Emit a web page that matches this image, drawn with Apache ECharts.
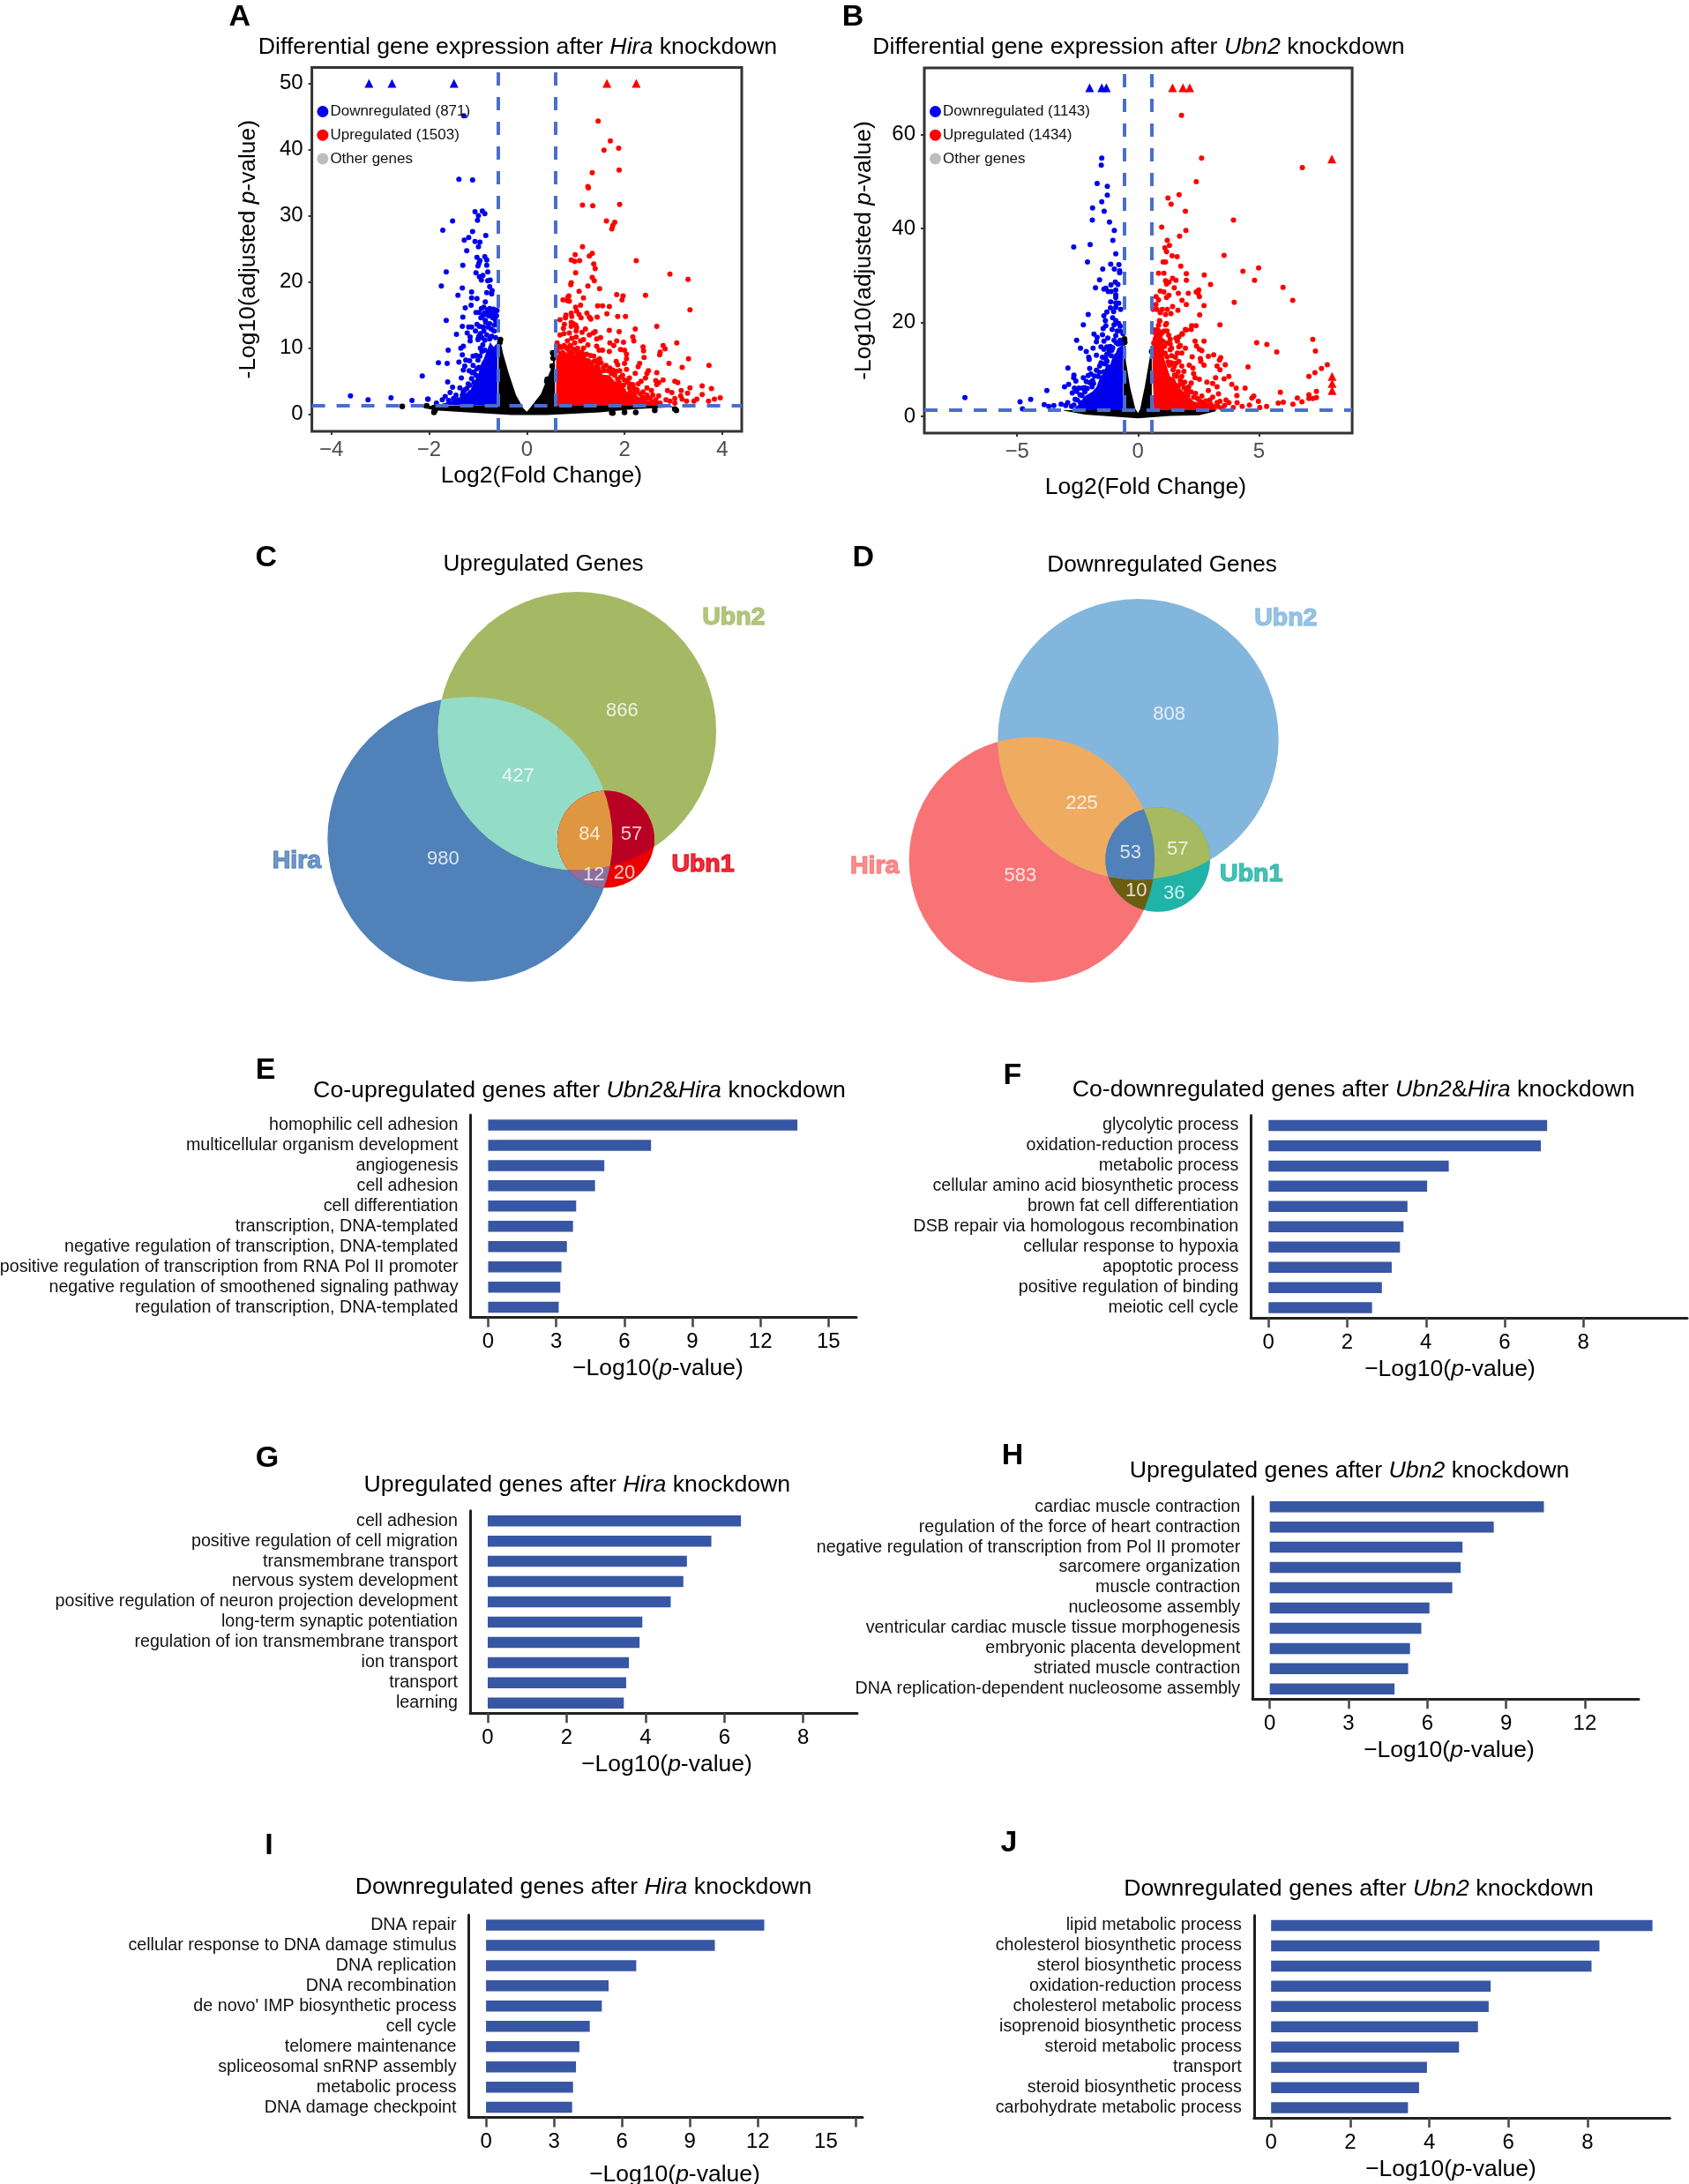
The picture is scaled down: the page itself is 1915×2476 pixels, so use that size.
<!DOCTYPE html>
<html>
<head>
<meta charset="utf-8">
<title>Hira Ubn2 knockdown</title>
<script src="https://cdn.jsdelivr.net/npm/echarts@6/dist/echarts.min.js"></script>
<style>
  html, body { margin: 0; padding: 0; background: #fff; }
  #main { width: 1915px; height: 2476px; }
</style>
</head>
<body>
<div id="main"></div>
<script>
// panel A points as [log2FC, -log10(padj)]
const hiraTopDown = [[-3.23,50],[-2.76,50],[-1.49,50]];
const hiraTopUp = [[1.64,50],[2.24,50]];
const hiraDown = [[-3.61,2.8],[-3.25,2.2],[-2.78,2.5],[-2.35,2.1],[-2.02,2.3],[-2.14,5.8],[-1.29,45.1],[-1.39,35.5],[-1.11,35.4],[-1.06,30.6],[-0.91,30.7],[-0.86,30.3],[-0.99,30],[-1.01,29.3],[-1.52,29.2],
  [-1.72,27.8],[-1.11,27.6],[-1.19,26.7],[-1.28,26.3],[-1.06,26.1],[-0.96,26],[-0.84,27],[-0.99,25.3],[-1.23,24.7],[-1.02,23.7],[-0.86,23.8],[-0.82,23.3],[-0.96,23.2],[-0.98,22.8],[-1,22.4],[-1.31,22.5],[-0.82,22.5],
  [-1.65,21.5],[-1.04,21.4],[-0.8,21.5],[-0.9,21],[-0.97,20.8],[-0.93,20.3],[-0.8,20.2],[-0.75,20.3],[-0.76,19.3],[-1.75,19.4],[-1.32,19.1],[-0.82,18.4],[-0.71,18.7],[-0.72,18.2],[-1.13,18.5],[-1.41,18],
  [-1.13,17.6],[-1.02,17.5],[-0.85,17],[-1.26,16.1],[-1.14,16.5],[-0.93,16],[-0.88,16.2],[-1.04,15.4],[-0.98,15.4],[-0.76,16],[-0.64,15.6],[-0.7,15.3],[-0.61,15.7],[-0.82,15.1],[-0.94,14.6],[-1.31,14.7],[-1.65,14.2],
  [-0.85,14.2],[-0.64,14.2],[-0.76,13.7],[-1.32,13.3],[-1.19,13.2],[-1.13,13.2],[-1.02,13.6],[-1.05,12.6],[-0.88,12.6],[-0.67,12.6],[-1.44,12.1],[-1.22,12.3],[-0.95,12.2],[-0.82,12],[-1.16,11.7],[-0.99,11.5],[-1,11.3],
  [-1.16,11.1],[-1.3,10.3],[-1.35,10],[-0.95,10],[-1.61,9.7],[-1.32,9],[-1.1,8.8],[-1.04,8.9],[-1.25,8.2],[-1.17,8.1],[-1.39,7.9],[-1.81,7.8],[-1.63,7.7],[-1.27,7.3],[-1.3,6.7],[-1.18,6.6],[-1.12,6.3],[-1.34,5.5],
  [-1.62,4.9],[-1.17,4.4],[-1.52,4.1],[-1.37,4],[-1.27,3.7],[-1.57,3.3],[-1.67,2.7],[-1.73,2.2],[-1.4,2.2],[-2.03,2.3],[-1.85,1.7],
  [-0.62,14.9],[-0.66,13.5],[-0.7,14.6],[-0.73,12.9],[-0.78,14.9],[-0.8,13.2],[-0.84,13.9],[-0.87,15.3],[-0.9,13.2],[-0.92,11.6],[-0.97,13.3],[-0.72,11.8],[-0.64,11.6],[-0.76,11.4],[-0.86,11.2],[-0.68,15.9],[-0.74,15.6],[-0.8,15.8],[-0.9,14.9],[-0.98,11.8],
  [-0.92,9.5],[-0.96,8.8],[-1,8.2],[-0.98,7.1],[-1.02,6.9],[-1.08,6.4],[-1.04,5.9],[-1.13,5.4],[-1.08,4.8],[-1.2,4.6],[-1.23,3.9],[-1.3,3.4],[-1.45,2.9],[-1.5,2.4],[-1.6,2.1],[-1.32,2.9],[-0.9,10.5],[-0.86,9.7],[-1.1,7.4],[-1.15,3.3]];
const hiraUp = [[1.46,44.3],[1.71,41.3],[1.88,40.2],[1.58,39.9],[1.89,36.9],[1.34,36.5],[1.25,34.4],[1.26,34.2],[1.14,31.6],[1.35,31.5],[1.9,31.7],[1.63,29.2],[1.8,29],[1.76,28.5],[1.74,28],
  [1.14,25.3],[0.99,24.1],[1.34,24.3],[1.28,23.9],[0.91,23.3],[0.98,23.1],[1.08,23.2],[2.24,23.2],[1.37,22.7],[1.4,22],[1,21.4],[1.34,20.7],[1.38,20.2],[2.93,21.2],[3.3,20.4],[0.91,19.9],[0.9,19.6],[1.25,19.4],[1.49,19],
  [1.07,18.6],[1.84,18.1],[1.97,17.9],[1.95,17.3],[2.43,18],[0.86,17.9],[0.84,17.7],[0.74,17.3],[0.83,17.2],[0.87,17.1],[1.16,17.6],[3.34,15.8],[1.1,16.5],[1,16.2],[1.45,16.4],[1.55,16.4],[1.69,16.3],[1.02,15.6],[1.23,15.3],
  [0.91,15.3],[1.07,15.1],[0.8,15],[0.79,14.6],[0.92,14.8],[1.11,14.6],[1.28,14.7],[1.31,14.4],[1.44,14.7],[1.64,15.2],[1.86,14.8],[2.02,14.8],[0.68,14.3],[0.77,13.6],[0.91,13.9],[0.95,13.7],[1,13.5],[2.66,13.3],[0.75,13],
  [0.91,13.3],[1.02,13.1],[1.2,12.9],[2.22,12.9],[1.69,12.7],[1.89,12.5],[0.68,12],[0.76,12.2],[0.87,12.3],[1.01,12.6],[1.13,12.4],[1.4,12.5],[1.36,12.3],[1.28,12],[2.17,11.7],[2.19,11.1],[1.51,11.6],[1.43,11.4],[1.01,11.7],
  [0.92,11.5],[1.16,11.3],[1.1,11.1],[0.62,10.8],[0.83,11.1],[0.98,10.8],[3.07,10.8],[1.7,10.8],[1.84,11.1],[1.98,10.9],[1.78,10.4],[1.43,10.3],[1.25,10.5],[0.76,10.4],[0.89,10.4],[2.38,10.2],[2.79,10.4],[2.83,9.9],[2.39,9.6],
  [2.73,9.4],[2.72,9],[1.92,9.8],[2,9.7],[1.69,9.5],[1.55,9.7],[1.48,9.7],[1.16,10],[1.04,10],[2.04,9.1],[2.4,8.6],[3.31,8.4],[2.04,8.4],[2.31,7.7],[1.83,8],[2,7.7],[1.49,8.4],[1.37,8.8],[2.91,7.7],[3.18,7.1],[3.73,7.4],[2.28,7.2],
  [2.49,6.6],[2.66,6.3],[2.46,6.2],[2.43,5.5],[2.04,6.8],[1.86,7.5],[2.22,6.2],[1.73,6.2],[1.57,7.1],[2.1,5.5],[2.34,5],[2.28,4.6],[2.64,5.1],[2.7,4.8],[2.79,5.2],[2.66,4.5],[3.03,5],[3.09,4.8],[3.34,4],[3.59,4.3],[3.78,3.9],
  [3.59,3],[3.29,3.2],[3.16,3.6],[2.88,3.6],[2.97,3.3],[2.55,3.6],[2.46,2.9],[2.37,2.6],[2.7,2.8],[2.85,2.2],[3.03,2.4],[3.15,2.8],[3.18,2.3],[3.27,2],[3.42,2],[3.48,2.3],[3.72,2],[3.84,2.3],[3.96,2.5],[2.73,1.7],[2.64,2.2],
  [2.52,2.4],[2.31,2.2],[1.86,5.3],[1.55,5.3],[2.22,3.3],[2.1,4],[1.98,4.4],[1.8,3.7],[1.89,4.8],[2.46,4],[2.64,1.7],[2.93,2],[3.03,1.7],
  [0.62,9.6],[0.66,10.3],[0.7,10.1],[0.79,10.2],[0.83,9.9],[0.87,9.3],[0.94,9.9],[1,9.5],[1.05,9.3],[1.12,9.4],[1.17,8.9],[1.22,9.1],[1.3,8.9],[1.38,8],[1.43,8.1],[1.45,7.5],[1.52,7.8],[1.57,6.6],[1.62,7.4],[1.66,6.6],[1.7,7],[1.76,6.7],[1.8,5.9],[1.83,6.5],[1.9,6.6],[1.92,5.6],[1.96,5.9],[2,5.2],[2.06,4.9],[2.1,4.6],[2.17,4.5],[2.2,3.9],[2.12,3.5],[2.26,3.7],[2.32,3.1],[2.38,3.4],[2.4,2.3],[1.97,3.6],[2.57,1.9],[2.47,2.4],[2.58,2.9]];
const hiraOther = [[-2.55,1.2],[-2.05,1.3],[-1.9,1.05],[-1.9,0.3],[-1.88,0.6],[1.74,0.25],[1.76,0.2],[2,0.3],[2.23,0.3],[2.62,0.6],[2.62,1.1],[3.06,0.6],[3.03,0.8],[-0.54,11.3],[-0.55,10.9],[0.54,8.5],[0.52,7.3],[0.42,5.3],[0.41,5],[0.53,9.3]];
// the solid parts of panel A, too dense to read single points: outlines only
const hiraDownMass = [[-0.6,1.3],[-0.6,10.8],[-0.68,10.2],[-0.75,10.9],[-0.82,9.6],[-0.88,8.4],[-0.93,7.8],[-1,5.9],[-1.08,5],[-1.15,3.7],[-1.27,3.1],[-1.4,2.4],[-1.6,1.9],[-1.82,1.4]];
const hiraUpMass = [[0.6,1.3],[0.6,8.4],[0.66,9.5],[0.75,9.8],[0.82,9.2],[0.9,9.9],[1,9],[1.1,9.5],[1.2,8.6],[1.3,8.4],[1.38,7.5],[1.5,7.3],[1.55,6],[1.7,5.9],[1.8,5],[1.95,4.6],[2.05,3.4],[2.2,3.3],[2.35,2.1],[2.5,2],[2.7,1.3]];
const hiraOtherMass = [[-2.3,1.3],[-0.58,1.3],[-0.58,11],[-0.52,10.4],[-0.49,9.3],[-0.37,6.2],[-0.22,2.9],[-0.07,0.9],[0,0.4],[0.08,1.1],[0.29,3.1],[0.41,5.3],[0.53,7.5],[0.57,10.6],[0.58,1.3],[2.9,1.3],[3.06,1.1],[2.22,0.8],[1.49,0.3],[0.41,-0.1],[-0.31,-0.1],[-1.21,0.3],[-1.88,0.6]];

// panel B points
const ubn2TopDown = [[-2,70],[-1.5,70],[-1.31,70]];
const ubn2TopUp = [[1.43,70],[1.86,70],[2.14,70],[8.02,54.8],[8.03,8.5],[8.03,7],[8.03,5.5]];
const ubn2Down = [[-1.5,55],[-1.52,53.5],[-1.69,49.6],[-1.27,49],[-1.27,47.1],[-1.5,45.7],[-1.88,44.4],[-1.4,43.7],[-1.89,41.8],[-1.18,41.4],[-0.98,39.6],[-1.04,37.5],[-1.98,36.6],[-2.66,36.1],[-0.92,34.6],[-2.09,32.9],[-1.13,32.4],[-0.79,32.3],[-1.46,31.4],[-0.98,31.4],[-0.76,31],[-0.76,30.6],
  [-1.59,29.1],[-0.94,28.6],[-1.12,28],[-0.83,28.1],[-1.76,27.4],[-1.41,27.1],[-1.33,27.3],[-1.23,26.6],[-1.11,26.6],[-0.92,26.9],[-0.92,25.9],[-0.92,25.3],[-1.13,24.4],[-0.92,24.2],[-0.8,24.1],[-0.72,22.8],[-1.14,23.1],[-0.92,23.2],[-1.01,22.3],[-1.29,22.2],[-2.06,21.7],[-1.41,21.4],[-1.35,20.4],[-1.05,21],[-0.92,20.4],[-0.8,19.8],
  [-2.26,19.5],[-1.33,19.3],[-0.99,19.5],[-0.74,19.2],[-1.44,18.7],[-1.07,18.5],[-0.86,18.2],[-0.74,18.2],[-1.82,17.5],[-0.62,17.6],[-1.47,17.4],[-0.92,17.2],[-1.69,16.8],[-1.25,16.7],[-2.54,16.2],[-1.72,15.9],[-1.41,16],[-0.99,16.2],[-0.74,16.2],[-2.38,14.5],[-1.86,14.5],[-1.53,14.8],[-1.41,14.3],[-1.29,14.8],[-2.14,13.8],[-1.72,13],[-2.04,12.6],[-2.02,12.1],[-1.47,12.6],[-1.29,13.2],[-1.11,12.9],[-0.89,12.9],
  [-2.9,10.3],[-2,10.2],[-1.72,9.8],[-1.59,10.7],[-2.65,8.8],[-2.66,8.2],[-2.57,7.5],[-2.87,6.8],[-3.04,6.3],[-2.26,8.2],[-2.14,7.4],[-2.06,8.7],[-2.63,6],[-2.54,5.3],[-2.45,6],[-2.3,6],[-3.77,5.5],[-2.72,5],[-2.32,4.4],[-2.51,3.5],[-2.38,2.9],[-2.91,2.9],[-3.18,2.6],[-2.99,2.3],[-3.48,2.3],[-3.88,2.5],[-3.69,2.1],[-1.84,7],[-1.9,6.3],[-1.65,8.5],[-1.41,9.5],[-1.11,9.1],
  [-7.16,4],[-4.88,3.1],[-4.44,3.6],[-4.78,1.6],
  [-0.7,15.5],[-0.82,15.4],[-0.9,15.7],[-1.05,14.6],[-1.15,14.9],[-1.2,13.9],[-1.33,12.2],[-1.38,11.2],[-1.53,11.4],[-1.6,9.4],[-1.8,8.6],[-1.88,7.6],[-2,7.2],[-2.1,5.9],[-2.2,6.1],[-2.4,4.6],[-2.2,5.2],[-2.6,3.6],[-2.65,2.4],[-2.75,2.1],[-1.95,9],[-1.28,11.7],[-1.08,14.1]];
const ubn2Up = [[1.8,64.1],[2.63,55],[6.8,53],[2.41,50],[1.7,47.2],[1.24,46.5],[1.37,45.2],[1.96,43.7],[3.95,41.8],[0.98,40.3],[1.98,39.6],[1.72,38.4],[1.21,37.5],[1.3,36.4],[1.11,35.9],[1.18,35.1],[1.41,34.2],[1.62,34],[3.56,34.3],[1.04,32.9],[1.14,32.9],[1.77,32],[4.99,31.6],[4.34,30.9],[4.82,29],[2,30.4],[0.85,30.5],[1.07,30.5],[2.74,30.1],[2,29],[1.14,28.9],[1.43,29.4],[1.57,29],[3,28.1],[6,27.5],[6.4,24.7],[3.98,24.3],[3.39,19.5],
  [1.5,27.4],[1.28,28.6],[1.18,28.2],[2.51,26.9],[2.41,26.5],[2.08,26.2],[1.67,26.2],[0.92,26.7],[1.07,26.5],[1.28,25.8],[0.75,25.5],[1.18,25.3],[1.82,24.7],[2,23.8],[2.48,26.2],[2.54,25.5],[2.73,23.6],[2.55,21.6],[0.85,24.8],[0.74,23.8],[1.43,23.4],[1.65,22.6],[0.63,22.8],[0.78,22.8],[1,22.8],[1.21,22.8],[1.36,21.9],[0.92,22.1],[1.14,21.7],[0.89,20.4],[2.22,19.3],[2.4,19.3],[1.96,18.5],[1.82,17.6],
  [4.91,15.7],[5.33,15.3],[5.74,13.7],[7.23,16.4],[7.34,13.9],[7.83,11],[7.59,10.2],[7.32,9.3],[7.07,8.5],[4.55,10.5],[4.43,6],[4.79,4.3],[4.71,3.9],[4.98,3.2],[5.32,2.1],[5.04,1.9],[4.61,2.4],[4.31,2.1],[4.1,2.9],[4.09,4.4],[4.06,6],[3.88,6.8],[3.76,8.5],[3.56,8],[3.61,11],[3.39,9.9],[3.27,10.7],[3.42,12.5],[3.37,12],[3.13,13.1],[2.91,12.8],[2.73,16],[2.36,16],[2.42,15],[2.54,14.3],[2.64,14],
  [2.2,18.5],[2,18.4],[1.84,17.5],[1.69,16.9],[1.63,16],[1.39,14.5],[1.96,14.5],[1.81,13.5],[2.24,12.7],[2.58,12.3],[2.6,11.7],[2.73,10.9],[2.12,10.9],[2.27,10.3],[1.69,11.7],[1.51,8.8],[1.81,8.5],[2.3,9.1],[2.36,8.2],[2.54,7.9],[2.85,7.3],[3.09,7],[3.21,8.2],[3.27,6.3],[3.33,4.8],[2.91,5.5],[2.64,4.3],[2.97,3.5],[3.39,3.2],[3.64,3.5],[3.76,2.9],[3.94,1.9],[3.58,2.3],[3.27,2.9],[3.09,4.1],[2.73,2.9],[2.3,4.1],[2.06,5.7],[1.69,6.6],[1.93,7.3],[2.06,4.4],[1.57,11.3],[1.33,15.4],[1.2,18.2],[0.9,20.3],[1.18,19.8],[1.57,16.7],[1.75,15.1],
  [5.89,5.1],[6.01,3],[5.8,2.8],[6.41,2.6],[6.59,3.9],[6.78,3.1],[7.07,3.8],[7.07,4.6],[7.38,5.3],[7.38,4],[7.23,3.8],[0.66,17.9],[1.14,19.5],[1.08,18.2],[1.27,17.3],[1.33,16.4],[1.33,14.2],[1.39,12.9],[1.69,14.8],[1.63,13.5],[1.81,10.7],
  [0.65,15.6],[0.7,18.4],[0.75,16.7],[0.85,19.4],[0.92,17.3],[1,17.8],[1.02,16],[1.1,14.9],[1.12,13.5],[1.18,15.6],[1.2,12.7],[1.25,11.6],[1.3,10.9],[1.38,11.4],[1.45,9.9],[1.5,10.6],[1.6,8.5],[1.66,9.5],[1.75,7.6],[1.85,7],[1.9,6.1],[2,5.3],[2.1,6.3],[2.2,5.2],[2.38,4.9],[2.45,3.8],[2.55,3.3],[2.62,3],[2.8,3.3],[2.85,2.4],[3,2.6],[3.1,2.1],[3.3,2.1],[3.45,1.8],[2.2,7.1],[1.9,9.6],[1.55,12.6]];
const ubn2Other = [[-0.56,16.5],[-0.55,15.8],[0.57,13.8]];
const ubn2DownMass = [[-0.62,1.3],[-0.62,15.3],[-0.72,14.9],[-0.85,14.5],[-0.95,13],[-1.05,12.6],[-1.15,11],[-1.3,11.2],[-1.41,9.3],[-1.55,8.6],[-1.72,6.2],[-1.9,5.2],[-2.2,4.3],[-2.45,2.6],[-2.69,1.3]];
const ubn2UpMass = [[0.66,1.3],[0.6,9.8],[0.6,16.4],[0.78,19.2],[0.96,18.5],[1.08,14.8],[1.08,12.3],[1.33,8.5],[1.5,8.2],[1.69,6.2],[1.9,5.2],[2.3,3.2],[2.7,2.6],[3.15,2.1],[3.27,1.3]];
const ubn2OtherMass = [[-3.08,1.3],[-0.6,1.3],[-0.6,15.5],[-0.56,16.5],[-0.5,11.7],[-0.32,6],[-0.11,1.6],[0,0.7],[0.09,1.6],[0.29,6.6],[0.5,12.9],[0.57,14.2],[0.57,1.3],[3.21,1.3],[3.21,1.1],[2.54,0.25],[1.33,0.1],[0,-0.4],[-2.2,0.4],[-3.08,1.2]];

// venn panels: circles are [x, y, r] on a plain unit scale, counts are [x, y, count]
const vennUpCircles = [[201.9,290.5,161.6],[323.3,167.8,157.8],[355.9,290.5,55]];
const vennUpCounts = [[374.3,144.9,866],[256.4,218.9,427],[337.5,285.4,84],[385,285.4,57],[171.4,312.9,980],[342.2,330.8,12],[377,329,20]];
const vennUpNames = [[500.8,39,'Ubn2'],[5.4,315,'Hira'],[466,318.8,'Ubn1']];
const vennDownCircles = [[208.9,313.7,139.2],[329.5,177.1,159.2],[351.7,313.5,59.3]];
const vennDownCounts = [[364.7,149.4,808],[265.5,249.9,225],[320.8,305.7,53],[374.2,301.6,57],[195.9,331.5,583],[327.2,349,10],[370.3,351.5,36]];
const vennDownNames = [[496.8,40.5,'Ubn2'],[30.6,321.2,'Hira'],[457.7,329.8,'Ubn1']];

// GO term panels
const termsE = ['homophilic cell adhesion','multicellular organism development','angiogenesis','cell adhesion','cell differentiation','transcription, DNA-templated','negative regulation of transcription, DNA-templated','positive regulation of transcription from RNA Pol II promoter','negative regulation of smoothened signaling pathway','regulation of transcription, DNA-templated'];
const valuesE = [13.63,7.18,5.12,4.71,3.88,3.74,3.47,3.23,3.18,3.11];
const termsF = ['glycolytic process','oxidation-reduction process','metabolic process','cellular amino acid biosynthetic process','brown fat cell differentiation','DSB repair via homologous recombination','cellular response to hypoxia','apoptotic process','positive regulation of binding','meiotic cell cycle'];
const valuesF = [7.08,6.92,4.58,4.03,3.53,3.43,3.34,3.13,2.88,2.63];
const termsG = ['cell adhesion','positive regulation of cell migration','transmembrane transport','nervous system development','positive regulation of neuron projection development','long-term synaptic potentiation','regulation of ion transmembrane transport','ion transport','transport','learning'];
const valuesG = [6.42,5.67,5.05,4.96,4.64,3.92,3.85,3.58,3.51,3.45];
const termsH = ['cardiac muscle contraction','regulation of the force of heart contraction','negative regulation of transcription from Pol II promoter','sarcomere organization','muscle contraction','nucleosome assembly','ventricular cardiac muscle tissue morphogenesis','embryonic placenta development','striated muscle contraction','DNA replication-dependent nucleosome assembly'];
const valuesH = [10.44,8.53,7.34,7.27,6.95,6.08,5.77,5.34,5.27,4.75];
const termsI = ['DNA repair','cellular response to DNA damage stimulus','DNA replication','DNA recombination',"de novo' IMP biosynthetic process",'cell cycle','telomere maintenance','spliceosomal snRNP assembly','metabolic process','DNA damage checkpoint'];
const valuesI = [12.28,10.1,6.63,5.41,5.11,4.58,4.12,3.97,3.84,3.8];
const termsJ = ['lipid metabolic process','cholesterol biosynthetic process','sterol biosynthetic process','oxidation-reduction process','cholesterol metabolic process','isoprenoid biosynthetic process','steroid metabolic process','transport','steroid biosynthetic process','carbohydrate metabolic process'];
const valuesJ = [9.64,8.3,8.1,5.55,5.5,5.23,4.75,3.94,3.74,3.46];

const FONT = '"Liberation Sans", Arial, sans-serif';
const DARK = '#231f20';
const CUT = '#4a6ecf';

var titles = [], grids = [], xAxes = [], yAxes = [], series = [], legends = [];

function addTitle(text, x, y, size, weight, rich) {
  titles.push({
    text: text, left: x, top: y, textAlign: 'center', textVerticalAlign: 'middle', padding: 0,
    textStyle: { fontFamily: FONT, fontSize: size, fontWeight: weight || 'normal', color: '#000', rich: rich }
  });
}
function italicRich(size) {
  return {
    a: { fontFamily: FONT, fontSize: size, color: '#000' },
    i: { fontFamily: FONT, fontSize: size, color: '#000', fontStyle: 'italic' }
  };
}
function richTitle(before, italic, after, x, y) {
  addTitle('{a|' + before + '}{i|' + italic + '}{a|' + after + '}', x, y, 26.7, 'normal', italicRich(26.7));
}
function nameShift(nameX, center) {
  var d = nameX - center;
  return [0, d < 0 ? -2 * d : 0, 0, d > 0 ? 2 * d : 0];
}
function minusSign(v) {
  return String(v).replace('-', '\u2212');
}

// one filled outline in data coordinates
function massSeries(idx, outline, color, z) {
  return {
    type: 'custom', xAxisIndex: idx, yAxisIndex: idx, z: z, silent: true, clip: true,
    coordinateSystem: 'cartesian2d',
    data: [outline[0]],
    renderItem: function (params, api) {
      return {
        type: 'polygon',
        shape: { points: outline.map(function (p) { return api.coord(p); }) },
        style: { fill: color }
      };
    }
  };
}

function volcano(p) {
  var idx = grids.length;
  grids.push({ outerBoundsMode: 'none', left: p.left, top: p.top, width: p.width, height: p.height, show: true, borderColor: '#333', borderWidth: 3, backgroundColor: 'transparent' });
  xAxes.push({
    gridIndex: idx, type: 'value', min: p.xMin, max: p.xMax,
    name: 'Log2(Fold Change)', nameLocation: 'middle', nameGap: p.xGap,
    nameTextStyle: { fontFamily: FONT, fontSize: 26.5, color: '#000', padding: nameShift(p.nameX, p.left + p.width / 2) },
    splitLine: { show: false },
    axisLine: { show: false, onZero: false },
    axisTick: { show: true, length: 4, lineStyle: { color: '#333', width: 2 }, customValues: p.xTicks },
    axisLabel: { customValues: p.xTicks, fontFamily: FONT, fontSize: 24, color: '#4d4d4d', margin: 9, formatter: minusSign }
  });
  yAxes.push({
    gridIndex: idx, type: 'value', min: p.yMin, max: p.yMax,
    name: '{a|-Log10(adjusted }{i|p}{a|-value)}', nameLocation: 'middle', nameGap: p.yGap, nameRotate: 90,
    nameTextStyle: { fontFamily: FONT, fontSize: 26.4, color: '#000', rich: italicRich(26.4) },
    splitLine: { show: false },
    axisLine: { show: false, onZero: false },
    axisTick: { show: true, length: 4, lineStyle: { color: '#333', width: 2 }, customValues: p.yTicks },
    axisLabel: { customValues: p.yTicks, fontFamily: FONT, fontSize: 24, color: '#000', margin: 10 }
  });
  function dots(name, data, color, symbol, size, z) {
    return { name: name, type: 'scatter', xAxisIndex: idx, yAxisIndex: idx, data: data, symbol: symbol, symbolSize: size, z: z, silent: true, itemStyle: { color: color, opacity: 1 } };
  }
  series.push(massSeries(idx, p.otherMass, '#000', 2));
  series.push(dots('Other genes', p.other, '#000', 'circle', 6.5, 2));
  series.push(massSeries(idx, p.downMass, '#0000ee', 3));
  series.push(dots(p.downName, p.down, '#0000ee', 'circle', 6, 3));
  series.push(massSeries(idx, p.upMass, '#ff0000', 3));
  series.push(dots(p.upName, p.up, '#ff0000', 'circle', 6, 3));
  series.push(dots('top down ' + idx, p.topDown, '#0000ee', 'triangle', 10, 4));
  var top = dots('top up ' + idx, p.topUp, '#ff0000', 'triangle', 10, 4);
  top.z = 5;
  top.markLine = {
    silent: true, symbol: 'none', animation: false, label: { show: false },
    lineStyle: { color: CUT, width: 4, type: [15, 13] },
    data: [{ xAxis: -0.585 }, { xAxis: 0.585 }, { yAxis: 1.3 }]
  };
  series.push(top);
  legends.push({
    left: p.legendLeft, top: 118, orient: 'vertical', itemWidth: 13, itemHeight: 13, itemGap: 9.7, padding: 0,
    selectedMode: false, icon: 'circle',
    textStyle: { fontFamily: FONT, fontSize: 17, color: '#111', padding: [0, 0, 0, -3] },
    data: [
      { name: p.downName, itemStyle: { color: '#0000ee' } },
      { name: p.upName, itemStyle: { color: '#ff0000' } },
      { name: 'Other genes', itemStyle: { color: '#bdbdbd' } }
    ]
  });
}

function goBars(p) {
  var idx = grids.length;
  grids.push({ outerBoundsMode: 'none', left: p.left, top: p.top, width: p.width, height: 229.6 });
  xAxes.push({
    gridIndex: idx, type: 'value', min: p.xMin, max: p.xMax,
    name: '{a|\u2212Log10(}{i|p}{a|-value)}', nameLocation: 'middle', nameGap: p.nameGap || 45,
    nameTextStyle: { fontFamily: FONT, fontSize: 26.5, color: '#000', rich: italicRich(26.5), padding: nameShift(p.nameX, p.left + p.width / 2) },
    splitLine: { show: false },
    axisLine: { show: true, onZero: false, lineStyle: { color: DARK, width: 3 } },
    axisTick: { show: true, length: 11, lineStyle: { color: '#444', width: 2.5 }, customValues: p.tickValues || p.ticks },
    axisLabel: { customValues: p.ticks, fontFamily: FONT, fontSize: 24, color: '#000', margin: 16 }
  });
  yAxes.push({
    gridIndex: idx, type: 'category', inverse: true, data: p.terms,
    axisLine: { onZero: false, lineStyle: { color: DARK, width: 3 } },
    axisTick: { alignWithLabel: true, length: 12, lineStyle: { color: DARK, width: 3 } },
    axisLabel: { fontFamily: FONT, fontSize: 19.7, color: '#111', margin: 14, interval: 0 }
  });
  series.push({
    type: 'bar', xAxisIndex: idx, yAxisIndex: idx, data: p.values, barWidth: 12.5, silent: true,
    itemStyle: { color: '#3756a4' }
  });
}

function venn(p) {
  var idx = grids.length;
  grids.push({ outerBoundsMode: 'none', left: p.left, top: p.top, width: 560, height: 470 });
  xAxes.push({ gridIndex: idx, type: 'value', min: 0, max: 560, show: false });
  yAxes.push({ gridIndex: idx, type: 'value', min: 0, max: 470, inverse: true, show: false });
  function circleShape(api, c) {
    var at = api.coord([c[0], c[1]]);
    return { cx: at[0], cy: at[1], r: api.size([c[2], 0])[0] };
  }
  series.push({
    type: 'custom', xAxisIndex: idx, yAxisIndex: idx, silent: true, clip: false, z: 2,
    data: p.regions.map(function (r, i) { return [i, i]; }),
    renderItem: function (params, api) {
      var region = p.regions[params.dataIndex];
      var members = region.sets.map(function (s) { return p.circles[s]; });
      var el = { type: 'circle', shape: circleShape(api, members[0]), style: { fill: region.color } };
      // every further set of the region clips the overlap down
      for (var i = 1; i < members.length; i++) {
        el = { type: 'group', clipPath: { type: 'circle', shape: circleShape(api, members[i]) }, children: [el] };
      }
      return el;
    }
  });
  series.push({
    type: 'scatter', xAxisIndex: idx, yAxisIndex: idx, data: p.counts, symbolSize: 0, silent: true, z: 4,
    label: {
      show: true, position: 'inside', fontFamily: FONT, fontSize: 22, color: '#fff',
      formatter: function (o) { return o.value[2]; }
    }
  });
  series.push({
    type: 'scatter', xAxisIndex: idx, yAxisIndex: idx, symbolSize: 0, silent: true, z: 4,
    data: p.names.map(function (n, i) {
      return {
        value: n,
        label: { show: true, position: 'inside', fontFamily: FONT, fontSize: 28.5, fontWeight: 'bold', color: p.nameColors[i], textBorderColor: p.nameColors[i], textBorderWidth: 1.5, formatter: n[2] }
      };
    })
  });
}

// ---- panels ----
volcano({
  left: 353.6, top: 76.4, width: 487.4, height: 412.6, xMin: -4.4, xMax: 4.4, yMin: -2.56, yMax: 52.4,
  xTicks: [-4, -2, 0, 2, 4], yTicks: [0, 10, 20, 30, 40, 50], xGap: 37, yGap: 59, nameX: 613.8, legendLeft: 359.4,
  downName: 'Downregulated (871)', upName: 'Upregulated (1503)',
  down: hiraDown, up: hiraUp, other: hiraOther, topDown: hiraTopDown, topUp: hiraTopUp,
  downMass: hiraDownMass, upMass: hiraUpMass, otherMass: hiraOtherMass
});
volcano({
  left: 1048, top: 77.1, width: 485.1, height: 413.8, xMin: -8.84, xMax: 8.86, yMin: -3.55, yMax: 74.2,
  xTicks: [-5, 0, 5], yTicks: [0, 20, 40, 60], xGap: 48, yGap: 55, nameX: 1299, legendLeft: 1054,
  downName: 'Downregulated (1143)', upName: 'Upregulated (1434)',
  down: ubn2Down, up: ubn2Up, other: ubn2Other, topDown: ubn2TopDown, topUp: ubn2TopUp,
  downMass: ubn2DownMass, upMass: ubn2UpMass, otherMass: ubn2OtherMass
});
venn({
  left: 331, top: 661, circles: vennUpCircles, counts: vennUpCounts, names: vennUpNames,
  nameColors: ['#a5b965', '#5081b9', '#e60012'],
  regions: [
    { sets: [0], color: '#5081b9' }, { sets: [1], color: '#a5b965' }, { sets: [2], color: '#ee0000' },
    { sets: [0, 1], color: '#93dcc7' }, { sets: [2, 0], color: '#8b6f9e' }, { sets: [2, 1], color: '#b80024' },
    { sets: [2, 0, 1], color: '#df9640' }
  ]
});
venn({
  left: 961, top: 661, circles: vennDownCircles, counts: vennDownCounts, names: vennDownNames,
  nameColors: ['#82b6dd', '#f87375', '#20b3a8'],
  regions: [
    { sets: [0], color: '#f87375' }, { sets: [1], color: '#82b6dd' }, { sets: [2], color: '#20b3a8' },
    { sets: [0, 1], color: '#efab60' }, { sets: [2, 0], color: '#6b5e12' }, { sets: [2, 1], color: '#a6ba62' },
    { sets: [2, 0, 1], color: '#5081b9' }
  ]
});
goBars({ left: 533.5, top: 1264, width: 437.5, xMin: -0.776, xMax: 16.23, ticks: [0, 3, 6, 9, 12, 15], terms: termsE, values: valuesE, nameX: 746 });
goBars({ left: 1418.3, top: 1264.5, width: 494.7, xMin: -0.448, xMax: 10.64, ticks: [0, 2, 4, 6, 8], terms: termsF, values: valuesF, nameX: 1644 });
goBars({ left: 533, top: 1712.7, width: 439, xMin: -0.447, xMax: 9.37, ticks: [0, 2, 4, 6, 8], terms: termsG, values: valuesG, nameX: 756 });
goBars({ left: 1420.2, top: 1696.7, width: 437.8, xMin: -0.654, xMax: 14.05, ticks: [0, 3, 6, 9, 12], terms: termsH, values: valuesH, nameX: 1643 });
goBars({ left: 531.5, top: 2171, width: 446.5, xMin: -0.762, xMax: 16.62, ticks: [0, 3, 6, 9, 12, 15], tickValues: [0, 3, 6, 9, 12, 16.3], terms: termsI, values: valuesI, nameX: 765, nameGap: 52 });
goBars({ left: 1421.8, top: 2171.5, width: 471.5, xMin: -0.432, xMax: 10.08, ticks: [0, 2, 4, 6, 8], terms: termsJ, values: valuesJ, nameX: 1645 });

// ---- headings ----
[['A', 271.7, 20], ['B', 967, 20], ['C', 301.7, 632.5], ['D', 978.7, 633], ['E', 301, 1213.5], ['F', 1148, 1219.5], ['G', 303, 1653.5], ['H', 1148, 1650.5], ['I', 305, 2092.5], ['J', 1144, 2089.5]].forEach(function (l) {
  addTitle(l[0], l[1], l[2], 34, 'bold');
});
richTitle('Differential gene expression after ', 'Hira', ' knockdown', 587, 54);
richTitle('Differential gene expression after ', 'Ubn2', ' knockdown', 1291, 54);
addTitle('Upregulated Genes', 616, 639.5, 26.2);
addTitle('Downregulated Genes', 1317.6, 641, 26.2);
addTitle('{a|Co-upregulated genes after }{i|Ubn2}{a|&}{i|Hira}{a| knockdown}', 657, 1236.5, 26.7, 'normal', italicRich(26.7));
addTitle('{a|Co-downregulated genes after }{i|Ubn2}{a|&}{i|Hira}{a| knockdown}', 1534.6, 1235.5, 26.7, 'normal', italicRich(26.7));
richTitle('Upregulated genes after ', 'Hira', ' knockdown', 654.4, 1683.5);
richTitle('Upregulated genes after ', 'Ubn2', ' knockdown', 1530, 1667.5);
richTitle('Downregulated genes after ', 'Hira', ' knockdown', 661.5, 2139.2);
richTitle('Downregulated genes after ', 'Ubn2', ' knockdown', 1540.5, 2141.5);

var myChart = echarts.init(document.getElementById('main'), null, { renderer: 'canvas' });
myChart.setOption({
  animation: false,
  backgroundColor: '#fff',
  title: titles,
  legend: legends,
  grid: grids,
  xAxis: xAxes,
  yAxis: yAxes,
  series: series
});
</script>
</body>
</html>
